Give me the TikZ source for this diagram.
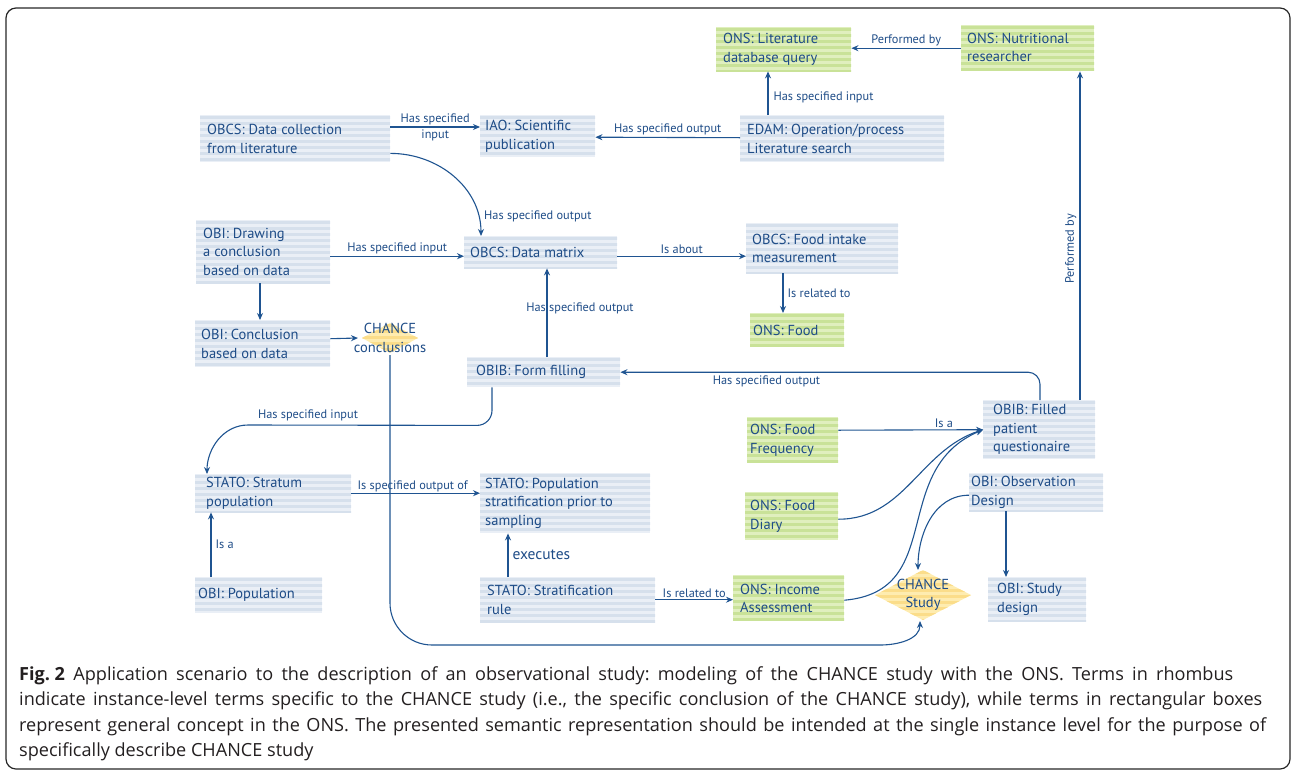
\documentclass[tikz,border=0pt]{standalone}
\usepackage{fontspec}
\setmainfont{PT Sans}
\newfontfamily\capfont{Open Sans}
\usetikzlibrary{arrows.meta,calc}
\frenchspacing
\definecolor{tblue}{RGB}{30,76,135}
\definecolor{lblue}{RGB}{31,84,145}
\definecolor{bl1}{RGB}{234,239,246}
\definecolor{bl2}{RGB}{214,224,236}
\definecolor{gr1}{RGB}{224,239,190}
\definecolor{gr2}{RGB}{201,226,152}
\definecolor{ye1}{RGB}{254,236,176}
\definecolor{ye2}{RGB}{251,221,138}
\definecolor{capc}{RGB}{35,31,32}
\tikzset{
 stripes/.style={path picture={\foreach \k in {0,...,20}{\fill[#1] ([yshift=-\k*6pt-1pt]path picture bounding box.north west) rectangle ++(400pt,-3pt);}}},
 bbox/.style={fill=bl1, stripes=bl2, inner sep=0pt, anchor=north west},
 gbox/.style={fill=gr1, stripes=gr2, inner sep=0pt, anchor=north west},
 btxt/.style={anchor=west, inner sep=0pt, align=left, text=tblue, font=\fontsize{14.5}{18.5}\selectfont},
 lbl/.style={text=tblue, font=\fontsize{12.3}{15}\selectfont, inner sep=1pt},
 arr/.style={draw=lblue, line width=1.1pt, -{Stealth[length=7pt,width=6pt]}},
 capline/.style={anchor=base west, inner sep=0pt, text=capc, font=\capfont\fontsize{18.1}{20}\selectfont},
}
\begin{document}
\begin{tikzpicture}[x=1pt,y=-1pt]
\useasboundingbox (0,0) rectangle (1292,774);
\draw[rounded corners=10, line width=1.2pt, black!85] (6,8) rectangle (1290,769);

% boxes
\node[bbox, minimum width=190pt, minimum height=47pt] (dcl) at (200,115) {};
\node[btxt] (dclt) at ($(dcl.west)+(7,0)$) {OBCS: Data collection\\from literature};
\node[bbox, minimum width=115pt, minimum height=42pt] (iao) at (480,115) {};
\node[btxt] (iaot) at ($(iao.west)+(5,0)$) {IAO: Scientific\\publication};
\node[bbox, minimum width=204pt, minimum height=47pt] (edam) at (740,115) {};
\node[btxt] (edamt) at ($(edam.west)+(7,0)$) {EDAM: Operation/process\\Literature search};
\node[gbox, minimum width=135pt, minimum height=44pt] (litq) at (716,27) {};
\node[btxt] (litqt) at ($(litq.west)+(7,0)$) {ONS: Literature\\database query};
\node[gbox, minimum width=133pt, minimum height=46pt] (nutr) at (961,25) {};
\node[btxt] (nutrt) at ($(nutr.west)+(6,-1)$) {ONS: Nutritional\\researcher};
\node[bbox, minimum width=134pt, minimum height=63pt] (drw) at (196,220) {};
\node[btxt] (drwt) at ($(drw.west)+(7,0)$) {OBI: Drawing\\a conclusion\\based on data};
\node[bbox, minimum width=153pt, minimum height=32pt] (dm) at (464,236) {};
\node[btxt] (dmt) at ($(dm.west)+(6,0)$) {OBCS: Data matrix};
\node[bbox, minimum width=152pt, minimum height=50pt] (fim) at (746,223) {};
\node[btxt] (fimt) at ($(fim.west)+(6,0)$) {OBCS: Food intake\\measurement};
\node[gbox, minimum width=94pt, minimum height=34pt] (food) at (750,313) {};
\node[btxt] (foodt) at ($(food.west)+(3,0)$) {ONS: Food};
\node[bbox, minimum width=135pt, minimum height=47pt] (concl) at (195,320) {};
\node[btxt] (conclt) at ($(concl.west)+(6,0)$) {OBI: Conclusion\\based on data};
\node[bbox, minimum width=153pt, minimum height=30pt] (ff) at (467,357) {};
\node[btxt] (fft) at ($(ff.west)+(9,0)$) {OBIB: Form filling};
\node[bbox, minimum width=112pt, minimum height=59pt] (fpq) at (983,400) {};
\node[btxt] (fpqt) at ($(fpq.west)+(10,0)$) {OBIB: Filled\\patient\\questionaire};
\node[gbox, minimum width=91pt, minimum height=46pt] (ffreq) at (747,417) {};
\node[btxt] (ffreqt) at ($(ffreq.west)+(3,0)$) {ONS: Food\\Frequency};
\node[gbox, minimum width=93pt, minimum height=48pt] (fdiary) at (745,492) {};
\node[btxt] (fdiaryt) at ($(fdiary.west)+(5,0)$) {ONS: Food\\Diary};
\node[bbox, minimum width=134pt, minimum height=38pt] (obsd) at (969,473) {};
\node[btxt] (obsdt) at ($(obsd.west)+(2,0)$) {OBI: Observation\\Design};
\node[gbox, minimum width=111pt, minimum height=46pt] (income) at (733,575) {};
\node[btxt] (incomet) at ($(income.west)+(7,0)$) {ONS: Income\\Assessment};
\node[bbox, minimum width=98pt, minimum height=44pt] (sdes) at (988,577) {};
\node[btxt] (sdest) at ($(sdes.west)+(9,0)$) {OBI: Study\\design};
\node[bbox, minimum width=156pt, minimum height=38pt] (strat) at (195,474) {};
\node[btxt] (stratt) at ($(strat.west)+(11,0)$) {STATO: Stratum\\population};
\node[bbox, minimum width=170pt, minimum height=60pt] (pstrat) at (480,473) {};
\node[btxt] (pstratt) at ($(pstrat.west)+(5,0)$) {STATO: Population\\stratification prior to\\sampling};
\node[bbox, minimum width=127pt, minimum height=36pt] (pop) at (195,577) {};
\node[btxt] (popt) at ($(pop.west)+(3,0)$) {OBI: Population};
\node[bbox, minimum width=175pt, minimum height=45pt] (srule) at (480,577) {};
\node[btxt] (srulet) at ($(srule.west)+(7,0)$) {STATO: Stratification\\rule};

% diamonds
\coordinate (ccd) at (390,338);
\path[fill=ye1, stripes=ye2] ($(ccd)+(-28,0)$) -- ($(ccd)+(0,-15)$) -- ($(ccd)+(28,0)$) -- ($(ccd)+(0,15)$) -- cycle;
\node[btxt, anchor=center, align=center] (cc) at (ccd) {CHANCE\\conclusions};
\coordinate (csd) at (923,595);
\path[fill=ye1, stripes=ye2] ($(csd)+(-48,0)$) -- ($(csd)+(0,-25)$) -- ($(csd)+(48,0)$) -- ($(csd)+(0,25)$) -- cycle;
\node[btxt, anchor=center, align=center] (cs) at (csd) {CHANCE\\Study};

% connectors
\draw[arr] ($(dcl.north east)+(0,12)$) -- ($(iao.north west)+(0,12)$)
  node[lbl, midway, align=center, font=\fontsize{12.3}{16}\selectfont] (l1) {Has specified\\input};
\draw[arr] ($(edam.west)+(0,-1)$) -- ($(iao.east)+(0,1)$)
  node[lbl, midway, above=1pt] (l2) {Has specified output};
\draw[arr] ($(edam.north west)+(28,0)$) -- ($(litq.south west)+(52,0)$)
  node[lbl, pos=0.4, right=4pt] (l3) {Has specified input};
\draw[arr] (nutr.west) -- (nutr.west -| litq.east)
  node[lbl, midway, above=1pt] (l4) {Performed by};
\draw[arr] ($(fpq.north west)+(97,0)$) -- ($(nutr.south west)+(119,0)$)
  node[lbl, pos=0.46, sloped, above=2pt] (l5) {Performed by};
\draw[arr] ($(dcl.south east)+(0,-9)$) to[out=0,in=90] ($(dm.north west)+(17,0)$);
\node[lbl, anchor=west] (l6) at ($(dm.north west)+(19,-20)$) {Has specified output};
\draw[arr] ($(drw.east)+(0,4.5)$) -- ($(dm.west)+(0,4)$)
  node[lbl, midway, above=1pt] (l7) {Has specified input};
\draw[arr] ($(dm.east)+(0,4)$) -- ($(fim.west)+(0,8)$)
  node[lbl, midway, above=1pt] (l8) {Is about};
\draw[arr] ($(fim.south west)+(37,0)$) -- ($(food.north west)+(33,0)$)
  node[lbl, midway, right=3pt] (l9) {Is related to};
\draw[arr] ($(drw.south west)+(64,0)$) -- ($(concl.north west)+(65,0)$);
\draw[arr] ($(concl.east)+(0,-5)$) -- ($(ccd)+(-32,0)$);
\draw[arr] ($(ff.north west)+(80,0)$) -- ($(dm.south west)+(83,0)$);
\node[lbl] (l10) at (580,308) {Has specified output};
\draw[arr, rounded corners=12pt] ($(fpq.north west)+(57,0)$) |- (ff.east)
  node[lbl, pos=0.826, below=2pt] (l11) {Has specified output};
\draw[arr] ($(ff.south west)+(25,0)$) -- ++(0,23) to[out=-90,in=0] ++(-15,15) -- (248,425)
  to[out=180,in=90] ($(strat.north west)+(12,0)$);
\node[lbl] (l12) at (308,415) {Has specified input};
\draw[arr] ($(strat.east)+(0,0)$) -- ($(strat.east -| pstrat.west)$)
  node[lbl, midway, above=0pt, xshift=-3pt] (l13) {Is specified output of};
\draw[arr] ($(pop.north west)+(16,0)$) -- ($(strat.south west)+(16,0)$)
  node[lbl, midway, right=3pt] (l14) {Is a};
\draw[arr] ($(srule.north west)+(28,0)$) -- ($(pstrat.south west)+(28,0)$)
  node[lbl, midway, right=3pt, font=\fontsize{15.5}{18}\selectfont] (l15) {executes};
\draw[arr] (srule.east) -- (srule.east -| income.west)
  node[lbl, midway, above=1pt] (l16) {Is related to};
\draw[arr] ($(ccd)+(0,17)$) -- (390,603) to[out=-90,in=180] (432,645) -- (880,645)
  to[out=0,in=-90] ($(csd)+(-3,26)$);
\coordinate (fq) at (fpq.west);
\draw[arr] ($(ffreq.east)+(0,-10)$) -- (fq)
  node[lbl, pos=0.73, above=1pt] (l17) {Is a};
\draw[arr] ($(fdiary.east)+(0,3)$) to[out=0,in=198] (fq);
\draw[arr] ($(income.east)+(0,2)$) to[out=5,in=203,looseness=1.2] (fq);
\draw[arr] ($(obsd.west)+(0,3)$) to[out=180,in=90] ($(csd)+(-5,-25)$);
\draw[arr] ($(obsd.south west)+(37,0)$) -- ($(sdes.north west)+(18,0)$);

% caption
\node[capline] (cap1) at (19,680) {\makebox[1214pt][s]{\mbox{\textbf{Fig. 2}} Application scenario to the description of an observational study: modeling of the CHANCE study with the ONS. Terms in rhombus}};
\node[capline] (cap2) at (19,705.5) {\makebox[1243pt][s]{indicate instance-level terms specific to the CHANCE study (i.e., the specific conclusion of the CHANCE study), while terms in rectangular boxes}};
\node[capline] (cap3) at (19,731) {\makebox[1247pt][s]{represent general concept in the ONS. The presented semantic representation should be intended at the single instance level for the purpose of}};
\node[capline] (cap4) at (19,756.5) {specifically describe CHANCE study};
\end{tikzpicture}
\end{document}
